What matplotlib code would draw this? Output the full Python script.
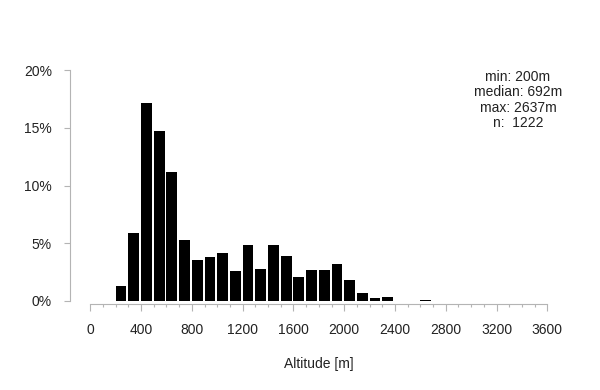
import numpy as np
import matplotlib.pyplot as plt
from matplotlib.ticker import FixedLocator, FuncFormatter
from matplotlib.transforms import blended_transform_factory

plt.rcParams['font.family'] = ['Liberation Sans', 'DejaVu Sans']

# bin left edges (m) and share of sites (%)
bin_left = [200, 300, 400, 500, 600, 700, 800, 900, 1000, 1100, 1200, 1300,
            1400, 1500, 1600, 1700, 1800, 1900, 2000, 2100, 2200, 2300, 2400,
            2500, 2600]
share = [1.33, 5.9, 17.14, 14.74, 11.13, 5.32, 3.58, 3.84, 4.19, 2.63, 4.88,
         2.77, 4.83, 3.93, 2.05, 2.69, 2.69, 3.18, 1.82, 0.72, 0.25, 0.33, 0.0,
         0.0, 0.08]
x_ticks = [0, 400, 800, 1200, 1600, 2000, 2400, 2800, 3200, 3600]
y_ticks = [0, 5, 10, 15, 20]
stats_text = "min: 200m\nmedian: 692m\nmax: 2637m\nn:  1222"

grey = "#b4b4b4"
txt = "#222222"

fig = plt.figure(figsize=(6, 3.9), dpi=100)
ax = fig.add_axes([70 / 600, 89 / 390, 490 / 600, 231 / 390])

ax.bar(bin_left, share, width=85, align="edge", color="black", linewidth=0)

ax.set_xlim(-160, 3700)
ax.set_ylim(0, 20)

for s in ["top", "right"]:
    ax.spines[s].set_visible(False)
ax.spines["left"].set_bounds(0, 20)
ax.spines["bottom"].set_bounds(0, 3600)
ax.spines["bottom"].set_position(("outward", 2))
for s in ["left", "bottom"]:
    ax.spines[s].set_color(grey)
    ax.spines[s].set_linewidth(0.8)

ax.xaxis.set_major_locator(FixedLocator(x_ticks))
ax.xaxis.set_minor_locator(FixedLocator(np.arange(0, 3601, 100)))
ax.yaxis.set_major_locator(FixedLocator(y_ticks))
ax.yaxis.set_major_formatter(FuncFormatter(lambda v, p: f"{v:.0f}%"))

ax.tick_params(axis="x", which="major", length=5, width=0.8, color=grey,
               labelsize=10, labelcolor=txt, pad=9)
ax.tick_params(axis="x", which="minor", length=2.5, width=0.8, color=grey)
ax.tick_params(axis="y", length=4, width=0.8, color=grey,
               labelsize=10, labelcolor=txt, pad=9)

trans = blended_transform_factory(ax.transData, fig.transFigure)
ax.text(1800, 1 - 364 / 390, "Altitude [m]", transform=trans,
        ha="center", va="center", fontsize=10, color=txt)

fig.text(518 / 600, 1 - 70 / 390, stats_text, ha="center", va="top",
         multialignment="center", fontsize=10, color=txt, linespacing=1.12)

fig.savefig("out.png", dpi=100)
